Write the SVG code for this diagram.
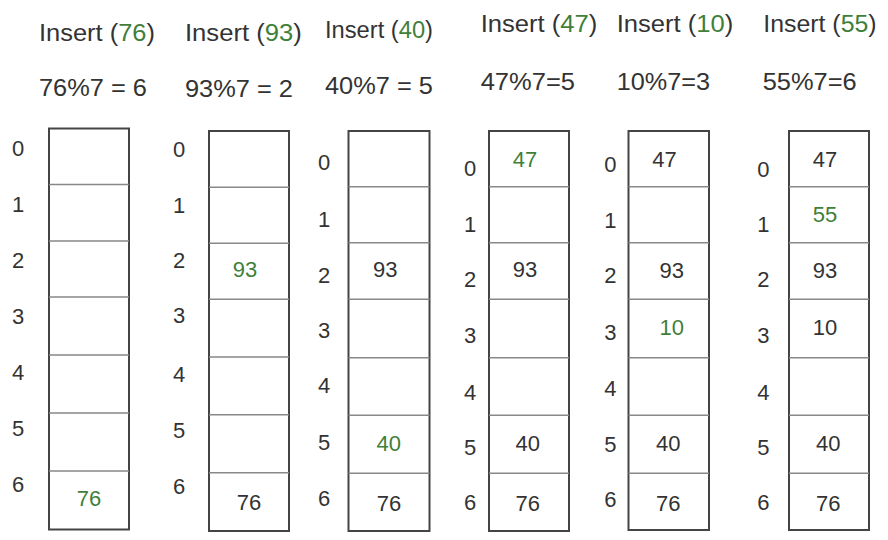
<svg xmlns="http://www.w3.org/2000/svg" width="888" height="540" viewBox="0 0 888 540">
<style>
text{font-family:"Liberation Sans",Arial,sans-serif;fill:#333}
.h{font-size:23px}
.g{fill:#3f7f3a}
.i{font-size:22px;text-anchor:middle}
.v{font-size:22px;text-anchor:middle}
.box{fill:#fff;stroke:#444;stroke-width:2}
.div{stroke:#888;stroke-width:1.5}
</style>
<rect width="888" height="540" fill="#fff"/>
<g id="headers">
<text class="h" x="39" y="40.7" textLength="116" lengthAdjust="spacingAndGlyphs">Insert (<tspan class="g">76</tspan>)</text>
<text class="h" x="39" y="95.7" textLength="108" lengthAdjust="spacingAndGlyphs">76%7 = 6</text>
<text class="h" x="185" y="40.7" textLength="116.7" lengthAdjust="spacingAndGlyphs">Insert (<tspan class="g">93</tspan>)</text>
<text class="h" x="185" y="96.7" textLength="108" lengthAdjust="spacingAndGlyphs">93%7 = 2</text>
<text class="h" x="325" y="38.3" textLength="108" lengthAdjust="spacingAndGlyphs">Insert (<tspan class="g">40</tspan>)</text>
<text class="h" x="325" y="94" textLength="108" lengthAdjust="spacingAndGlyphs">40%7 = 5</text>
<text class="h" x="480.7" y="32.3" textLength="116.6" lengthAdjust="spacingAndGlyphs">Insert (<tspan class="g">47</tspan>)</text>
<text class="h" x="480.7" y="90" textLength="94.3" lengthAdjust="spacingAndGlyphs">47%7=5</text>
<text class="h" x="616.7" y="32.3" textLength="116.6" lengthAdjust="spacingAndGlyphs">Insert (<tspan class="g">10</tspan>)</text>
<text class="h" x="616.7" y="90" textLength="93.3" lengthAdjust="spacingAndGlyphs">10%7=3</text>
<text class="h" x="763.3" y="32.3" textLength="113.3" lengthAdjust="spacingAndGlyphs">Insert (<tspan class="g">55</tspan>)</text>
<text class="h" x="762.7" y="90" textLength="94" lengthAdjust="spacingAndGlyphs">55%7=6</text>
</g>
<g id="table1">
<rect class="box" x="49" y="128.5" width="80" height="401"/>
<path class="div" d="M49 184.5H129M49 241H129M49 297H129M49 355H129M49 413H129M49 471H129"/>
<text class="i" x="18" y="155.7">0</text><text class="i" x="18" y="211.7">1</text><text class="i" x="18" y="268">2</text><text class="i" x="18" y="324">3</text><text class="i" x="18" y="380">4</text><text class="i" x="18" y="436">5</text><text class="i" x="18" y="492">6</text>
<text class="v g" x="89" y="506">76</text>
</g>
<g id="table2">
<rect class="box" x="209" y="131" width="80" height="400"/>
<path class="div" d="M209 187.3H289M209 243.3H289M209 299.3H289M209 357H289M209 414.7H289M209 472.7H289"/>
<text class="i" x="179" y="156.7">0</text><text class="i" x="179" y="213.3">1</text><text class="i" x="179" y="268.3">2</text><text class="i" x="179" y="323.3">3</text><text class="i" x="179" y="381.7">4</text><text class="i" x="179" y="438.3">5</text><text class="i" x="179" y="494">6</text>
<text class="v g" x="245" y="277">93</text>
<text class="v" x="249" y="510">76</text>
</g>
<g id="table3">
<rect class="box" x="348.5" y="131" width="81" height="400"/>
<path class="div" d="M348.5 186.7H429.5M348.5 242.7H429.5M348.5 299.3H429.5M348.5 357.7H429.5M348.5 415.3H429.5M348.5 473.3H429.5"/>
<text class="i" x="324" y="170">0</text><text class="i" x="324" y="226.7">1</text><text class="i" x="324" y="282.7">2</text><text class="i" x="324" y="338.3">3</text><text class="i" x="324" y="393.3">4</text><text class="i" x="324" y="450">5</text><text class="i" x="324" y="506">6</text>
<text class="v" x="385.3" y="277.3">93</text>
<text class="v g" x="388.8" y="451">40</text>
<text class="v" x="389" y="510.5">76</text>
</g>
<g id="table4">
<rect class="box" x="489" y="131" width="80" height="400"/>
<path class="div" d="M489 186.7H569M489 242.7H569M489 299.3H569M489 357.7H569M489 415.3H569M489 473.3H569"/>
<text class="i" x="470" y="176">0</text><text class="i" x="470" y="231.7">1</text><text class="i" x="470" y="286.7">2</text><text class="i" x="470" y="343.3">3</text><text class="i" x="470" y="400">4</text><text class="i" x="470" y="455">5</text><text class="i" x="470" y="510">6</text>
<text class="v g" x="525" y="166.7">47</text>
<text class="v" x="525" y="277.3">93</text>
<text class="v" x="527.8" y="451">40</text>
<text class="v" x="527.8" y="510.5">76</text>
</g>
<g id="table5">
<rect class="box" x="628.5" y="131" width="80.5" height="399"/>
<path class="div" d="M628.5 186.7H709M628.5 242.7H709M628.5 299.3H709M628.5 357.7H709M628.5 415.3H709M628.5 473.3H709"/>
<text class="i" x="610.3" y="172.3">0</text><text class="i" x="610.3" y="228.3">1</text><text class="i" x="610.3" y="283.3">2</text><text class="i" x="610.3" y="340">3</text><text class="i" x="610.3" y="396">4</text><text class="i" x="610.3" y="451.7">5</text><text class="i" x="610.3" y="507.3">6</text>
<text class="v" x="664.5" y="166.7">47</text>
<text class="v" x="671.7" y="278.3">93</text>
<text class="v g" x="671.7" y="335">10</text>
<text class="v" x="668.3" y="451">40</text>
<text class="v" x="668.3" y="510.5">76</text>
</g>
<g id="table6">
<rect class="box" x="789" y="131" width="80" height="399"/>
<path class="div" d="M789 186.7H869M789 242.7H869M789 299.3H869M789 357.7H869M789 415.3H869M789 473.3H869"/>
<text class="i" x="763.3" y="176.7">0</text><text class="i" x="763.3" y="231.7">1</text><text class="i" x="763.3" y="286.7">2</text><text class="i" x="763.3" y="343.3">3</text><text class="i" x="763.3" y="400">4</text><text class="i" x="763.3" y="455">5</text><text class="i" x="763.3" y="510">6</text>
<text class="v" x="825" y="166.7">47</text>
<text class="v g" x="825" y="221.7">55</text>
<text class="v" x="825" y="278.3">93</text>
<text class="v" x="825" y="335">10</text>
<text class="v" x="828.3" y="451">40</text>
<text class="v" x="828.3" y="510.5">76</text>
</g>
<g id="connectors"/>
</svg>
